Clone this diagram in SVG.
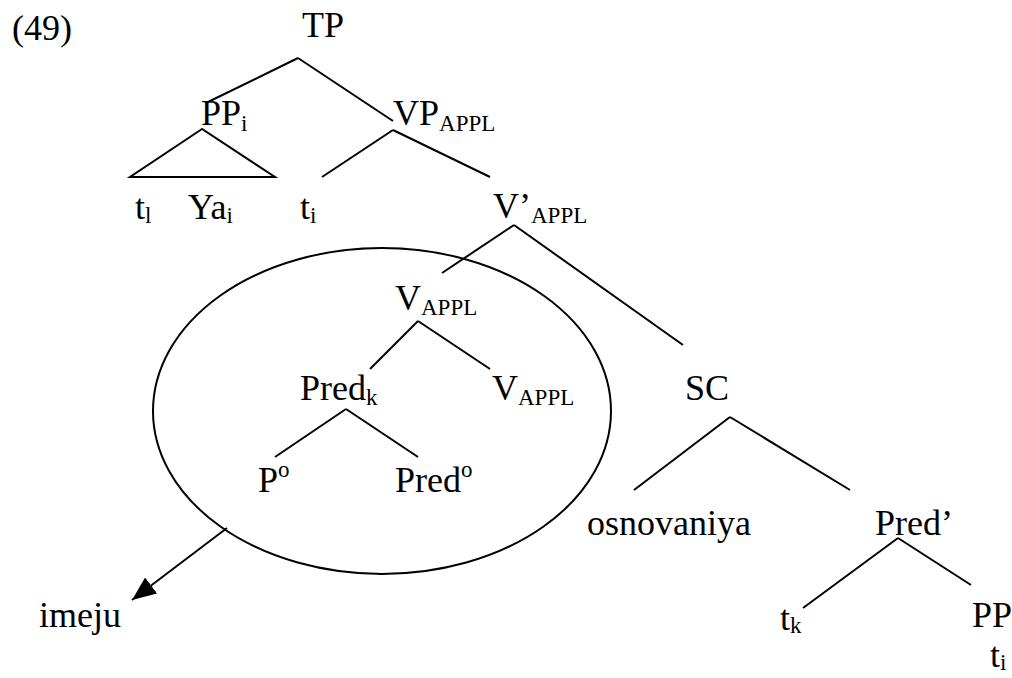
<svg xmlns="http://www.w3.org/2000/svg" width="1012" height="678" viewBox="0 0 1012 678">
  <style>
    text { font-family: "Liberation Serif", "Times New Roman", serif; font-size: 36px; fill: #000; }
    .s { font-size: 23px; }
    .edge { stroke: #000; stroke-width: 2; fill: none; stroke-linecap: butt; }
  </style>
  <defs>
    <marker id="arrowhead" markerWidth="24" markerHeight="20" refX="24" refY="10" orient="auto" markerUnits="userSpaceOnUse" viewBox="0 0 24 20">
      <path d="M0,0 L24,10 L0,20 Z" fill="#000"/>
    </marker>
  </defs>

  <text id="example-number" x="12" y="40">(49)</text>

  <!-- tree branches -->
  <g id="connectors">
    <!-- TP -->
    <line class="edge" x1="298" y1="58" x2="206" y2="103"/>
    <line class="edge" x1="298" y1="58" x2="393" y2="121"/>
    <!-- PP_i triangle -->
    <path class="edge" d="M202,129 L130,177 L275,177 Z"/>
    <!-- VP_APPL -->
    <line class="edge" x1="393" y1="130" x2="322" y2="177"/>
    <line class="edge" x1="393" y1="130" x2="490" y2="177"/>
    <!-- V'_APPL -->
    <line class="edge" x1="514" y1="225" x2="442" y2="273"/>
    <line class="edge" x1="514" y1="225" x2="683" y2="345"/>
    <!-- V_APPL -->
    <line class="edge" x1="418" y1="321" x2="370" y2="369"/>
    <line class="edge" x1="418" y1="321" x2="490" y2="369"/>
    <!-- Pred_k -->
    <line class="edge" x1="346" y1="409" x2="275" y2="457"/>
    <line class="edge" x1="346" y1="409" x2="418" y2="457"/>
    <!-- SC -->
    <line class="edge" x1="730" y1="417" x2="634" y2="490"/>
    <line class="edge" x1="730" y1="417" x2="850" y2="490"/>
    <!-- Pred' -->
    <line class="edge" x1="898" y1="538" x2="803" y2="608"/>
    <line class="edge" x1="898" y1="538" x2="971" y2="585"/>
    <!-- circled complex head and its movement arrow -->
    <ellipse class="edge" cx="382" cy="411" rx="229" ry="163"/>
    <line class="edge" x1="227" y1="528" x2="132" y2="600" marker-end="url(#arrowhead)"/>
  </g>

  <g id="node-TP"><text x="302" y="37">TP</text></g>
  <g id="node-PPi"><text x="201" y="125">PP<tspan class="s" dy="6">i</tspan></text></g>
  <g id="node-VPappl"><text x="393" y="125">VP<tspan class="s" dy="6">APPL</tspan></text></g>
  <g id="node-tl"><text x="135" y="219">t<tspan class="s" dy="4">l</tspan></text></g>
  <g id="node-Ya"><text x="188" y="219">Ya<tspan class="s" dy="4">i</tspan></text></g>
  <g id="node-ti"><text x="300" y="219">t<tspan class="s" dy="4">i</tspan></text></g>
  <g id="node-Vbar"><text x="493" y="218">V’<tspan class="s" dy="5">APPL</tspan></text></g>
  <g id="node-Vappl"><text x="395" y="310">V<tspan class="s" dy="5">APPL</tspan></text></g>
  <g id="node-Predk"><text x="300" y="400">Pred<tspan class="s" dy="5">k</tspan></text></g>
  <g id="node-Vappl2"><text x="492" y="400">V<tspan class="s" dy="5">APPL</tspan></text></g>
  <g id="node-Po"><text x="258" y="492">P<tspan class="s" dy="-15">o</tspan></text></g>
  <g id="node-Predo"><text x="395" y="492">Pred<tspan class="s" dy="-15">o</tspan></text></g>
  <g id="node-SC"><text x="685" y="400">SC</text></g>
  <g id="node-osnovaniya"><text x="587" y="535">osnovaniya</text></g>
  <g id="node-Predbar"><text x="875" y="535">Pred’</text></g>
  <g id="node-tk"><text x="780" y="630">t<tspan class="s" dy="3">k</tspan></text></g>
  <g id="node-PP"><text x="972" y="627">PP</text></g>
  <g id="node-ti2"><text x="990" y="667">t<tspan class="s" dy="3">i</tspan></text></g>
  <g id="node-imeju"><text x="39" y="627">imeju</text></g>
</svg>
